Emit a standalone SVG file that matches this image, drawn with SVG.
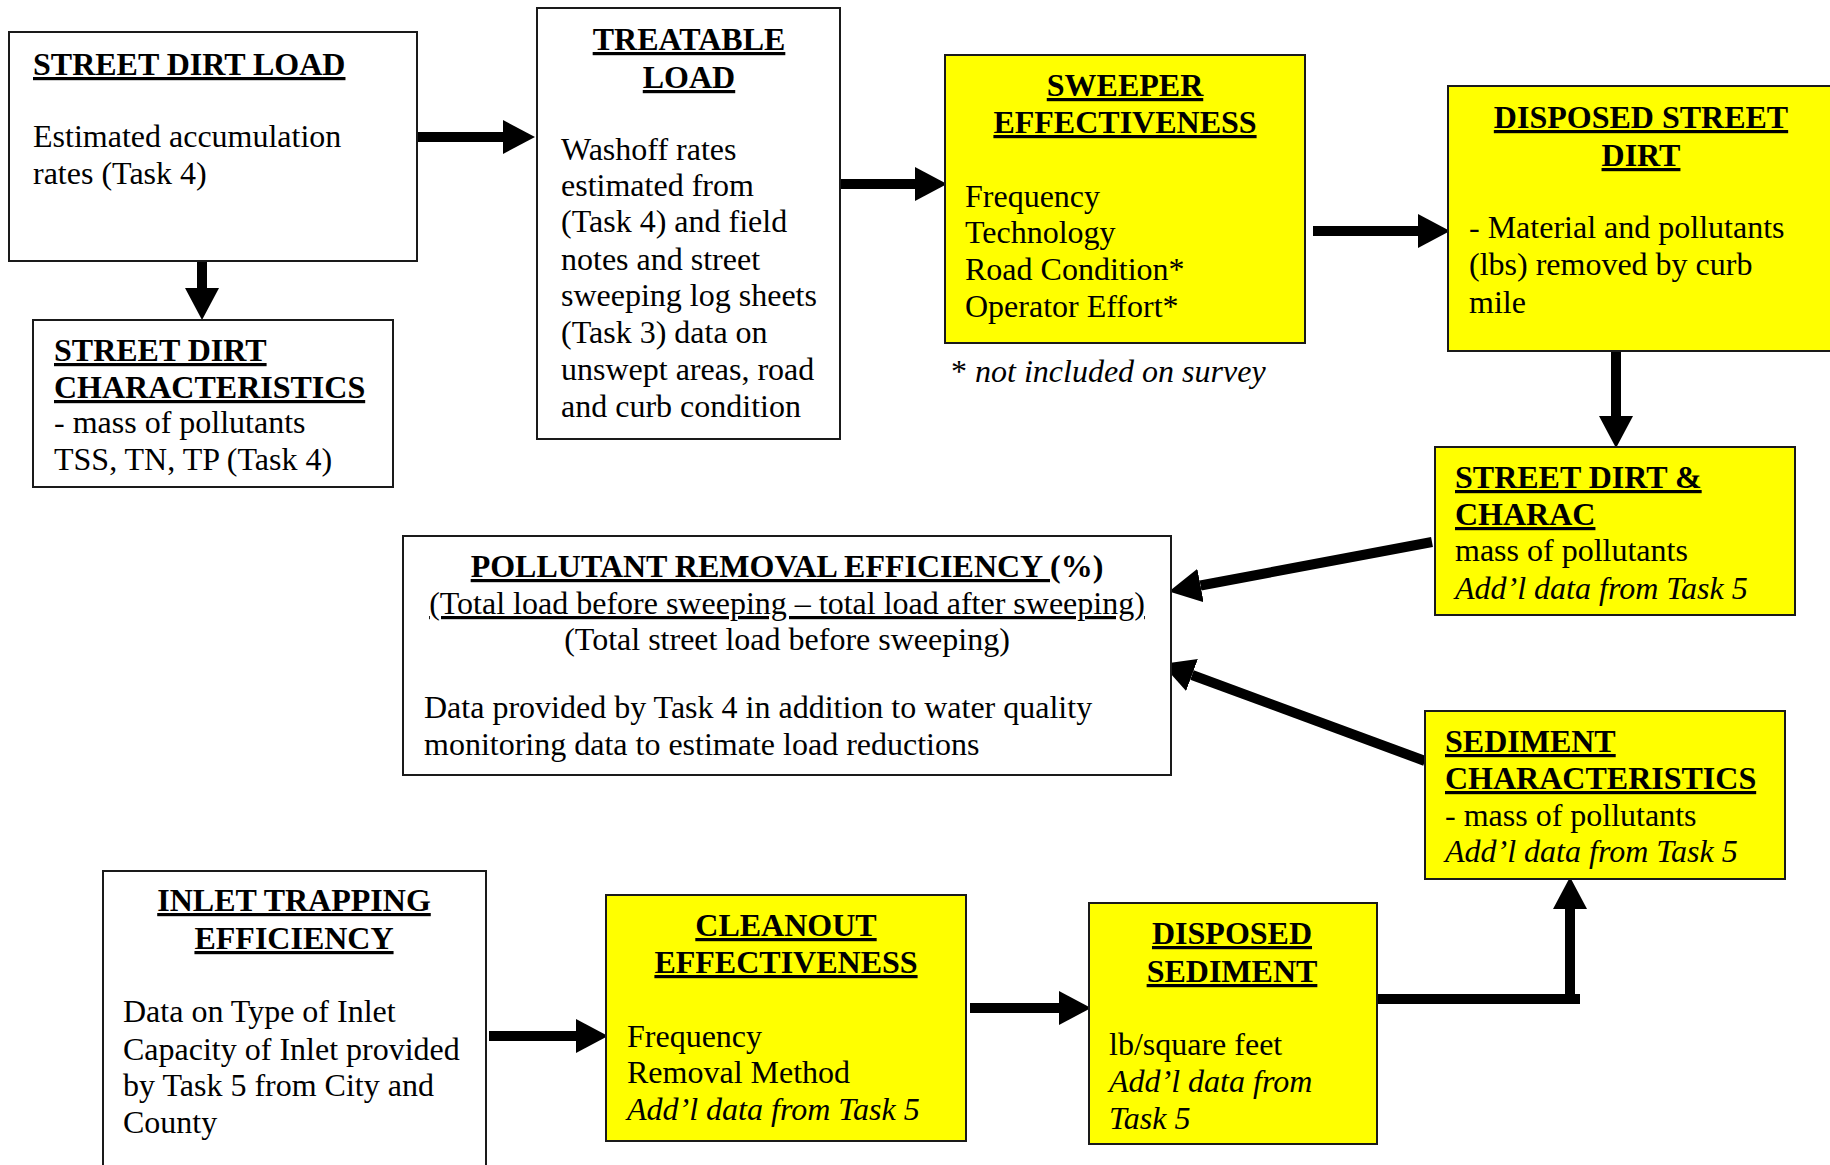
<svg xmlns="http://www.w3.org/2000/svg" width="1830" height="1165" viewBox="0 0 1830 1165">
<style>
text{font-family:"Liberation Serif","Times New Roman",serif;font-size:32px;fill:#000}
.h{font-weight:bold}
.u{text-decoration:underline;text-decoration-thickness:3px}
.m{text-anchor:middle}
.i{font-style:italic}
.box{stroke:#1a1a1a;stroke-width:2;fill:#fff}
.yel{fill:#ffff00}
.c{stroke:#000;stroke-width:10;fill:none}
</style>
<defs>
<marker id="ah" markerUnits="userSpaceOnUse" markerWidth="32" markerHeight="34" refX="0" refY="17" orient="auto" viewBox="0 0 32 34">
<path d="M0,0 L32,17 L0,34 Z" fill="#000"/>
</marker>
</defs>
<rect width="1830" height="1165" fill="#fff"/>

<g id="connectors">
<line class="c" x1="417" y1="137" x2="503" y2="137" marker-end="url(#ah)"/>
<line class="c" x1="202" y1="261" x2="202" y2="288" marker-end="url(#ah)"/>
<line class="c" x1="840" y1="184" x2="915" y2="184" marker-end="url(#ah)"/>
<line class="c" x1="1313" y1="231" x2="1418" y2="231" marker-end="url(#ah)"/>
<line class="c" x1="1616" y1="351" x2="1616" y2="416" marker-end="url(#ah)"/>
<line class="c" x1="1432" y1="542" x2="1200.5" y2="585.5" marker-end="url(#ah)"/>
<line class="c" x1="1425" y1="761" x2="1192" y2="675" marker-end="url(#ah)"/>
<line class="c" x1="489" y1="1036" x2="576" y2="1036" marker-end="url(#ah)"/>
<line class="c" x1="970" y1="1008" x2="1059" y2="1008" marker-end="url(#ah)"/>
<path class="c" d="M1377,999 H1580"/>
<line class="c" x1="1570" y1="1004" x2="1570" y2="909" marker-end="url(#ah)"/>
</g>

<g id="street-dirt-load">
<rect class="box" x="9" y="32" width="408" height="229"/>
<text x="33" y="75" class="h u">STREET DIRT LOAD</text>
<text x="33" y="147">Estimated accumulation</text>
<text x="33" y="184">rates (Task 4)</text>
</g>

<g id="street-dirt-characteristics">
<rect class="box" x="33" y="320" width="360" height="167"/>
<text x="54" y="361" class="h u">STREET DIRT</text>
<text x="54" y="398" class="h u">CHARACTERISTICS</text>
<text x="54" y="433">- mass of pollutants</text>
<text x="54" y="470">TSS, TN, TP (Task 4)</text>
</g>

<g id="treatable-load">
<rect class="box" x="537" y="8" width="303" height="431"/>
<text x="689" y="50" class="h u m">TREATABLE</text>
<text x="689" y="88" class="h u m">LOAD</text>
<text x="561" y="160">Washoff rates</text>
<text x="561" y="196">estimated from</text>
<text x="561" y="232">(Task 4) and field</text>
<text x="561" y="270">notes and street</text>
<text x="561" y="306">sweeping log sheets</text>
<text x="561" y="343">(Task 3) data on</text>
<text x="561" y="380">unswept areas, road</text>
<text x="561" y="417">and curb condition</text>
</g>

<g id="sweeper-effectiveness">
<rect class="box yel" x="945" y="55" width="360" height="288"/>
<text x="1125" y="96" class="h u m">SWEEPER</text>
<text x="1125" y="133" class="h u m">EFFECTIVENESS</text>
<text x="965" y="207">Frequency</text>
<text x="965" y="243">Technology</text>
<text x="965" y="280">Road Condition*</text>
<text x="965" y="317">Operator Effort*</text>
</g>
<text x="951" y="382">* <tspan class="i">not included on survey</tspan></text>

<g id="disposed-street-dirt">
<rect class="box yel" x="1448" y="86" width="384" height="265"/>
<text x="1641" y="128" class="h u m">DISPOSED STREET</text>
<text x="1641" y="166" class="h u m">DIRT</text>
<text x="1469" y="238">- Material and pollutants</text>
<text x="1469" y="275">(lbs) removed by curb</text>
<text x="1469" y="313">mile</text>
</g>

<g id="street-dirt-charac">
<rect class="box yel" x="1435" y="447" width="360" height="168"/>
<text x="1455" y="488" class="h u">STREET DIRT &amp;</text>
<text x="1455" y="525" class="h u">CHARAC</text>
<text x="1455" y="561">mass of pollutants</text>
<text x="1455" y="599" class="i">Add’l data from Task 5</text>
</g>

<g id="pollutant-removal-efficiency">
<rect class="box" x="403" y="536" width="768" height="239"/>
<text x="787" y="577" class="h m"><tspan class="u">POLLUTANT REMOVAL EFFICIENCY </tspan>(%)</text>
<text x="787" y="614" class="m u">(Total load before sweeping – total load after sweeping)</text>
<text x="787" y="650" class="m">(Total street load before sweeping)</text>
<text x="424" y="718">Data provided by Task 4 in addition to water quality</text>
<text x="424" y="755">monitoring data to estimate load reductions</text>
</g>

<g id="sediment-characteristics">
<rect class="box yel" x="1425" y="711" width="360" height="168"/>
<text x="1445" y="752" class="h u">SEDIMENT</text>
<text x="1445" y="789" class="h u">CHARACTERISTICS</text>
<text x="1445" y="826">- mass of pollutants</text>
<text x="1445" y="862" class="i">Add’l data from Task 5</text>
</g>

<g id="inlet-trapping-efficiency">
<rect class="box" x="103" y="871" width="383" height="310"/>
<text x="294" y="911" class="h u m">INLET TRAPPING</text>
<text x="294" y="949" class="h u m">EFFICIENCY</text>
<text x="123" y="1022">Data on Type of Inlet</text>
<text x="123" y="1060">Capacity of Inlet provided</text>
<text x="123" y="1096">by Task 5 from City and</text>
<text x="123" y="1133">County</text>
</g>

<g id="cleanout-effectiveness">
<rect class="box yel" x="606" y="895" width="360" height="246"/>
<text x="786" y="936" class="h u m">CLEANOUT</text>
<text x="786" y="973" class="h u m">EFFECTIVENESS</text>
<text x="627" y="1047">Frequency</text>
<text x="627" y="1083">Removal Method</text>
<text x="627" y="1120" class="i">Add’l data from Task 5</text>
</g>

<g id="disposed-sediment">
<rect class="box yel" x="1089" y="903" width="288" height="241"/>
<text x="1232" y="944" class="h u m">DISPOSED</text>
<text x="1232" y="982" class="h u m">SEDIMENT</text>
<text x="1109" y="1055">lb/square feet</text>
<text x="1109" y="1092" class="i">Add’l data from</text>
<text x="1109" y="1129" class="i">Task 5</text>
</g>
</svg>
